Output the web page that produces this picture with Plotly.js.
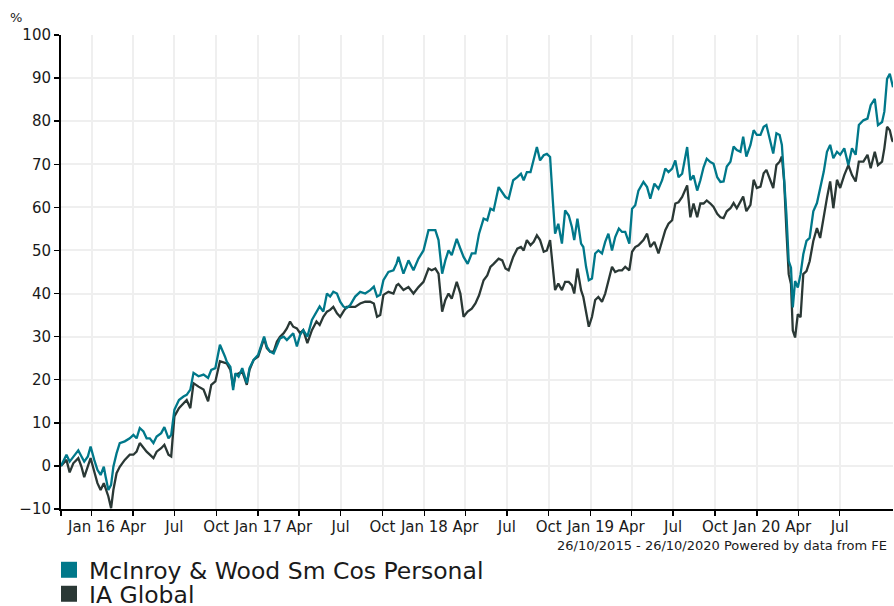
<!DOCTYPE html>
<html>
<head>
<meta charset="utf-8">
<script src="https://cdn.plot.ly/plotly-3.0.1.min.js"></script>
<style>
html,body{margin:0;padding:0;background:#fff;}
#chart{width:894px;height:606px;}
</style>
</head>
<body>
<div id="chart"></div>
<script>
// ---- data (cumulative % growth) ----
var dates = [
'2015-10-26','2015-11-07','2015-11-14','2015-11-22','2015-12-03','2015-12-10','2015-12-16','2015-12-24','2015-12-30',
'2016-01-07','2016-01-14','2016-01-21','2016-01-28','2016-02-01','2016-02-07','2016-02-13','2016-02-18','2016-02-25',
'2016-03-03','2016-03-14','2016-03-25','2016-04-02','2016-04-09','2016-04-16','2016-04-24','2016-05-01','2016-05-08','2016-05-16','2016-05-23','2016-06-02','2016-06-09','2016-06-18','2016-06-24','2016-07-01','2016-07-11','2016-07-21','2016-07-28','2016-08-05','2016-08-12','2016-08-23','2016-09-03','2016-09-13','2016-09-20','2016-09-29','2016-10-09','2016-10-20','2016-10-24',
'2016-11-01','2016-11-07','2016-11-12','2016-11-19','2016-11-27','2016-12-01','2016-12-07','2016-12-13','2016-12-22',
'2017-01-01','2017-01-09','2017-01-14','2017-01-20','2017-01-27','2017-02-04','2017-02-11','2017-02-18','2017-02-26','2017-03-05','2017-03-12','2017-03-19','2017-03-27','2017-04-03','2017-04-10','2017-04-19','2017-04-29','2017-05-09','2017-05-16','2017-05-24','2017-06-01','2017-06-08','2017-06-15','2017-06-23','2017-06-30','2017-07-07','2017-07-14','2017-07-22','2017-08-02','2017-08-13','2017-08-24','2017-09-04','2017-09-12','2017-09-19','2017-09-26','2017-10-03','2017-10-14','2017-10-25','2017-11-01','2017-11-05','2017-11-16','2017-11-27','2017-12-08','2017-12-19','2017-12-30',
'2018-01-10','2018-01-17','2018-01-25','2018-02-01','2018-02-09','2018-02-16','2018-02-23','2018-03-02','2018-03-13','2018-03-21','2018-03-28','2018-04-06','2018-04-15','2018-04-23','2018-05-01','2018-05-11','2018-05-19','2018-05-26','2018-06-02','2018-06-13','2018-06-21','2018-06-28','2018-07-05','2018-07-15','2018-07-24','2018-08-01','2018-08-07','2018-08-14','2018-08-22','2018-08-29','2018-09-05','2018-09-12','2018-09-20','2018-09-27','2018-10-04','2018-10-10','2018-10-15','2018-10-22','2018-10-30','2018-11-06','2018-11-14','2018-11-21','2018-11-26','2018-12-03','2018-12-11','2018-12-16','2018-12-22','2018-12-28',
'2019-01-04','2019-01-11','2019-01-18','2019-01-26','2019-02-02','2019-02-09','2019-02-17','2019-02-24','2019-03-04','2019-03-11','2019-03-18','2019-03-27','2019-04-02','2019-04-09','2019-04-16','2019-04-27','2019-05-05','2019-05-12','2019-05-21','2019-05-30','2019-06-07','2019-06-14','2019-06-21','2019-06-29','2019-07-06','2019-07-13','2019-07-21','2019-08-01','2019-08-08','2019-08-15','2019-08-23','2019-08-30','2019-09-06','2019-09-13','2019-09-21','2019-09-28','2019-10-06','2019-10-13','2019-10-20','2019-10-27','2019-11-04','2019-11-11','2019-11-18','2019-11-26','2019-12-02','2019-12-09','2019-12-18','2019-12-25',
'2020-01-01','2020-01-09','2020-01-16','2020-01-22','2020-01-29','2020-02-06','2020-02-13','2020-02-20','2020-02-25','2020-03-01','2020-03-06','2020-03-11','2020-03-16','2020-03-20','2020-03-25','2020-03-31','2020-04-06','2020-04-12','2020-04-19','2020-04-26','2020-05-04','2020-05-12','2020-05-19','2020-05-27','2020-06-03','2020-06-10','2020-06-17','2020-06-25','2020-07-02','2020-07-11','2020-07-20','2020-07-28','2020-08-05','2020-08-12','2020-08-22','2020-08-31','2020-09-07','2020-09-16','2020-09-23','2020-10-02','2020-10-07','2020-10-13','2020-10-19','2020-10-24','2020-10-26'
];

var mcinroy = [
0,2.6,1.0,2.2,3.6,2.2,1.0,2.2,4.5,
1.4,-0.9,-2.1,-0.2,-2.5,-5.6,-4.4,-0.2,2.9,
5.3,5.7,6.4,7.2,6.4,8.8,8.0,6.4,6.4,5.3,6.8,7.6,9.0,6.4,7.2,13.0,15.3,16.1,16.5,17.7,21.6,20.8,21.2,20.4,22.3,22.7,28.1,25.4,24.2,
23.0,17.6,21.5,20.7,22.7,21.5,19.2,22.7,24.6,
25.8,28.5,30.0,27.7,26.5,26.1,28.1,29.6,30.0,29.2,30.0,30.8,27.7,30.4,31.5,30.0,33.9,35.8,37.0,35.8,40.0,39.3,40.4,40.0,38.1,37.0,36.6,37.3,39.3,40.4,40.0,40.8,41.6,39.3,39.7,43.1,45.0,45.4,47.0,48.5,44.6,47.7,45.4,48.1,50.0,
54.7,54.7,54.7,52.4,44.6,47.7,50.0,48.9,52.7,50.4,48.5,46.9,49.3,49.3,53.9,57.4,57.0,59.7,59.3,64.7,63.5,62.4,62.0,66.3,67.0,67.8,66.3,68.2,68.2,70.9,74.0,70.9,72.1,72.4,71.7,61.6,53.9,56.2,51.6,59.3,58.1,55.4,52.4,57.4,51.6,50.8,46.2,43.1,
43.5,49.3,50.0,49.3,52.0,53.9,50.0,53.1,55.1,54.3,54.3,51.6,59.7,60.5,63.9,65.9,64.7,62.0,65.5,64.3,66.3,69.0,68.2,69.0,70.9,67.0,67.8,74.0,66.3,67.4,63.9,66.3,69.3,71.3,70.5,70.1,67.0,65.9,66.0,69.5,70.6,74.1,73.3,72.9,76.4,71.8,74.5,77.9,
76.8,76.8,78.7,79.1,76.0,72.5,77.2,76.8,74.5,66.8,58.3,47.5,46.0,36.8,42.9,41.4,44.5,49.1,52.2,52.9,59.1,61.0,64.5,68.3,72.9,74.5,71.4,72.9,72.2,73.7,69.8,73.7,72.2,79.1,80.2,80.6,83.7,85.2,79.1,79.8,82.2,89.8,91.0,88.3,87.9
];

var iaGlobal = [
0,1.4,-1.5,0.6,1.8,-0.2,-2.6,-0.2,1.8,
-1.3,-4.0,-5.6,-4.0,-5.2,-7.1,-9.8,-5.6,-1.7,
-0.2,1.4,2.6,2.6,3.3,5.3,4.1,3.3,2.6,1.8,3.3,4.1,4.9,2.6,2.2,11.5,13.4,14.6,15.3,13.4,19.2,18.4,17.7,15.0,18.8,19.6,24.3,23.9,23.8,
22.3,18.4,21.1,21.5,21.9,20.7,18.8,22.3,24.6,
25.4,27.7,29.6,27.3,26.5,26.5,28.8,30.0,30.8,31.9,33.5,32.3,31.9,30.8,31.5,28.5,31.5,33.5,32.7,34.6,35.8,36.2,36.9,35.4,34.6,35.8,36.9,36.9,36.9,37.7,38.1,38.1,37.7,34.6,35.0,39.7,40.4,40.0,41.9,42.2,40.8,41.5,40.0,41.5,42.7,
45.8,45.4,45.8,44.6,35.8,38.5,40.0,38.8,42.7,40.0,34.6,35.8,36.5,37.7,39.6,43.1,44.2,46.2,46.9,48.1,47.7,45.8,45.4,48.5,50.4,50.8,50.0,52.4,51.2,52.0,53.5,52.4,49.7,50.0,52.4,46.2,40.8,42.3,40.8,42.7,42.7,41.9,40.0,45.8,40.8,39.2,35.4,32.3,
34.6,38.5,39.2,38.1,40.0,43.1,46.2,45.0,45.4,45.4,46.2,45.4,49.7,50.8,51.2,52.4,53.9,50.8,52.0,49.3,52.0,54.7,56.2,57.0,60.9,61.2,62.4,65.1,57.7,60.9,57.7,60.9,60.9,61.6,60.9,60.1,58.5,57.7,57.5,59.1,59.8,61.0,59.8,61.4,62.5,59.1,60.6,66.4,
64.5,64.8,67.9,68.7,66.8,64.5,69.8,70.6,71.8,66.0,54.5,44.5,42.2,31.4,29.8,35.2,34.5,44.5,45.2,47.5,52.2,55.2,52.9,58.3,62.2,66.0,59.8,66.4,64.5,67.5,69.8,67.5,66.0,70.6,70.6,72.2,69.1,72.9,69.8,70.6,73.7,78.7,77.9,75.6,75.2
];

var seriesNames = ['McInroy & Wood Sm Cos Personal', 'IA Global'];

var tickDates = ['2015-10-26','2016-01-01','2016-04-01','2016-07-01','2016-10-01','2017-01-01','2017-04-01','2017-07-01','2017-10-01','2018-01-01','2018-04-01','2018-07-01','2018-10-01','2019-01-01','2019-04-01','2019-07-01','2019-10-01','2020-01-01','2020-04-01','2020-07-01'];
var tickLabels = ['','Jan 16','Apr','Jul','Oct','Jan 17','Apr','Jul','Oct','Jan 18','Apr','Jul','Oct','Jan 19','Apr','Jul','Oct','Jan 20','Apr','Jul'];

var footerText = '26/10/2015 - 26/10/2020 Powered by data from FE';

// ---- styling ----
var TEAL = '#00788a';
var DARK = '#2a3835';
var FONT = 'DejaVu Sans, Verdana, sans-serif';

var traces = [
  {x: dates, y: iaGlobal, type: 'scatter', mode: 'lines', name: seriesNames[1], showlegend: false,
   line: {color: DARK, width: 2.3}, hoverinfo: 'skip'},
  {x: dates, y: mcinroy, type: 'scatter', mode: 'lines', name: seriesNames[0], showlegend: false,
   line: {color: TEAL, width: 2.3}, hoverinfo: 'skip'},
  {x: [null], y: [null], type: 'scatter', mode: 'markers', name: seriesNames[0], legend: 'legend',
   marker: {symbol: 'square', size: 16, color: TEAL}},
  {x: [null], y: [null], type: 'scatter', mode: 'markers', name: seriesNames[1], legend: 'legend2',
   marker: {symbol: 'square', size: 16, color: DARK}}
];

var legendCommon = {
  orientation: 'v', xanchor: 'left', yanchor: 'middle', x: -0.0144,
  bgcolor: 'rgba(0,0,0,0)', borderwidth: 0,
  font: {family: FONT, size: 23.5, color: '#1a1a1a'}, itemclick: false, itemdoubleclick: false
};

var layout = {
  width: 894, height: 606,
  margin: {l: 61, r: 1, t: 35, b: 97, pad: 0, autoexpand: false},
  paper_bgcolor: '#ffffff', plot_bgcolor: '#ffffff',
  font: {family: FONT, color: '#1a1a1a'},
  showlegend: true,
  legend: Object.assign({}, legendCommon, {y: -0.1287}),
  legend2: Object.assign({}, legendCommon, {y: -0.1793}),
  xaxis: {
    type: 'date', range: [dates[0], dates[dates.length - 1]],
    tickmode: 'array', tickvals: tickDates, ticktext: tickLabels,
    ticks: 'outside', ticklen: 5, tickwidth: 1.5, tickcolor: '#000',
    showline: true, linecolor: '#000', linewidth: 2,
    showgrid: true, gridcolor: '#efefef', gridwidth: 2, zeroline: false,
    ticklabelstandoff: -2,
    tickfont: {family: FONT, size: 15, color: '#1a1a1a'}, fixedrange: true, automargin: false
  },
  yaxis: {
    range: [-10, 100], dtick: 10, tick0: 0,
    ticks: 'outside', ticklen: 5, tickwidth: 1.5, tickcolor: '#000',
    showline: true, linecolor: '#000', linewidth: 2,
    showgrid: true, gridcolor: '#efefef', gridwidth: 2, zeroline: false,
    tickfont: {family: FONT, size: 15, color: '#1a1a1a'}, fixedrange: true, automargin: false
  },
  annotations: [
    {text: '%', xref: 'paper', yref: 'paper', x: -0.054, y: 1.036, xanchor: 'center', yanchor: 'middle',
     showarrow: false, font: {family: FONT, size: 13, color: '#1a1a1a'}},
    {text: footerText, xref: 'paper', yref: 'paper', x: 0.995, y: -0.0765, xanchor: 'right', yanchor: 'middle',
     showarrow: false, font: {family: FONT, size: 13, color: '#1a1a1a'}}
  ]
};

Plotly.newPlot('chart', traces, layout, {displayModeBar: false, staticPlot: true});
</script>
</body>
</html>
